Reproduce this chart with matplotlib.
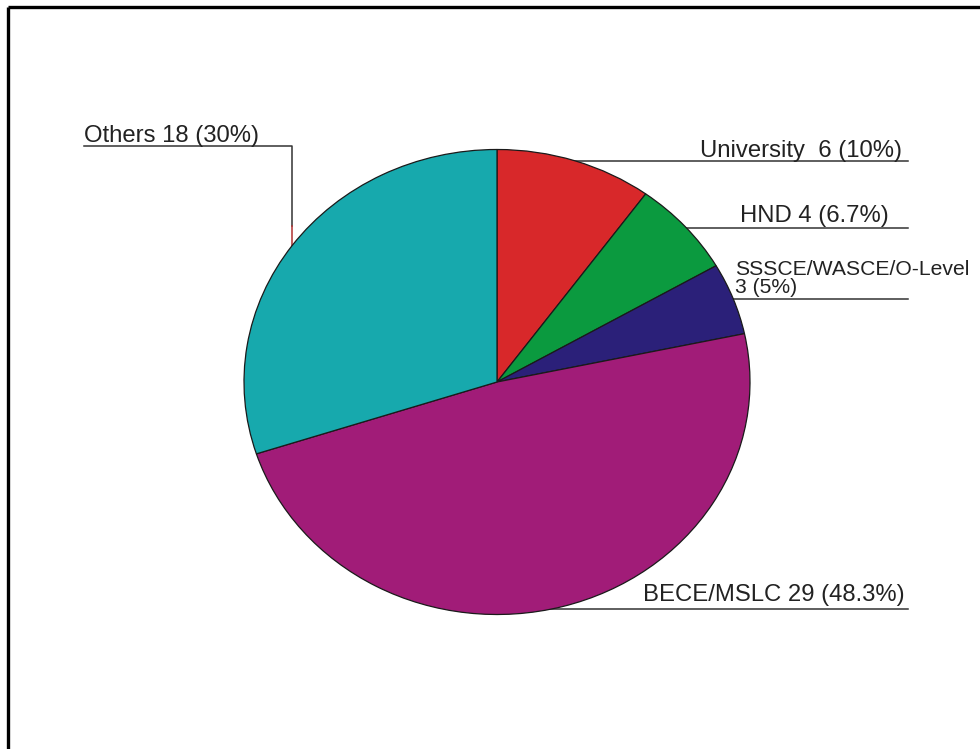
import matplotlib
matplotlib.use("Agg")
import matplotlib.pyplot as plt

plt.rcParams["font.family"] = ["Liberation Sans", "DejaVu Sans"]

# qualification counts (clockwise from 12 o'clock)
categories = ["University", "HND", "SSSCE/WASCE/O-Level", "BECE/MSLC", "Others"]
counts = [6, 4, 3, 29, 18]
percents = ["10%", "6.7%", "5%", "48.3%", "30%"]
labels = [
    "University  6 (10%)",
    "HND 4 (6.7%)",
    "SSSCE/WASCE/O-Level\n3 (5%)",
    "BECE/MSLC 29 (48.3%)",
    "Others 18 (30%)",
]
colors = ["#D8282A", "#0B9A3F", "#2B2079", "#A11C78", "#17A9AD"]

W, H = 980, 749
fig = plt.figure(figsize=(W / 100, H / 100), dpi=100)

# background axes in pixel coords for frame, leader lines and labels
bg = fig.add_axes([0, 0, 1, 1])
bg.set_xlim(0, W)
bg.set_ylim(H, 0)
bg.axis("off")

# frame (only top and left edges are visible in the crop)
bg.plot([8, W], [7, 7], color="black", lw=2.4, solid_capstyle="butt")
bg.plot([8, 8], [7, H], color="black", lw=2.4, solid_capstyle="butt")

line_kw = dict(color="#333333", lw=1.1, zorder=1)
big = 17.2

# University
bg.plot([540, 908], [161, 161], **line_kw)
bg.text(700, 157, labels[0], fontsize=big, va="baseline", color="#222222")
# HND
bg.plot([620, 908], [228, 228], **line_kw)
bg.text(740, 222, labels[1], fontsize=big, va="baseline", color="#222222")
# SSSCE
bg.plot([650, 908], [299, 299], **line_kw)
bg.text(735, 293, labels[2], fontsize=15.2, va="baseline", color="#222222",
        linespacing=0.92)
# BECE
bg.plot([520, 908], [609, 609], **line_kw)
bg.text(643, 601, labels[3], fontsize=big, va="baseline", color="#222222")
# Others
bg.plot([84, 292, 292], [146, 146, 226], **line_kw)
bg.plot([292, 292], [226, 246], color="#B03030", lw=1.1, zorder=1)
bg.text(84, 142, labels[4], fontsize=big, va="baseline", color="#222222")

# pie, stretched slightly wider than tall as in the source
cx, cy, rx, ry = 497, 382, 253, 232.5
ax = fig.add_axes([(cx - rx) / W, (H - cy - ry) / H, 2 * rx / W, 2 * ry / H])
ax.pie(counts, colors=colors, startangle=90, counterclock=False, radius=1,
       wedgeprops=dict(edgecolor="#1a1a1a", linewidth=0.9))
ax.set_aspect("auto")
ax.set_xlim(-1, 1)
ax.set_ylim(-1, 1)
ax.axis("off")

fig.savefig("out.png", dpi=100)
